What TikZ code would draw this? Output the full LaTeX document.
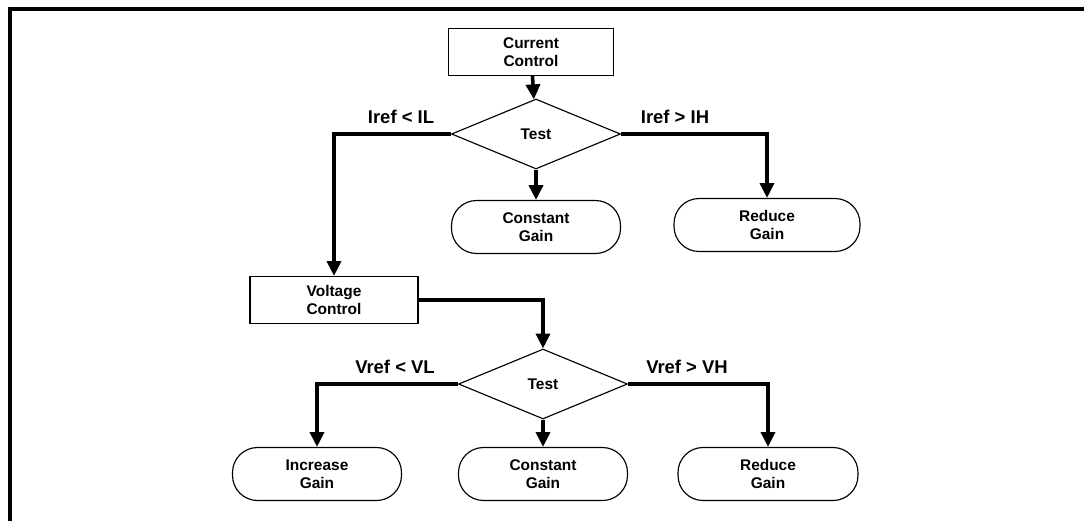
\documentclass[tikz,border=0pt]{standalone}
\usepackage{fontspec}
\setmainfont{Liberation Sans}
\usetikzlibrary{shapes.geometric,arrows.meta}

\begin{document}
\begin{tikzpicture}[x=0.02cm,y=-0.02cm]
\tikzset{boite/.style={draw, line width=0.65pt, inner sep=0pt, align=center, font=\fontsize{8.8}{10}\selectfont\bfseries},
  ctrl/.style={boite, minimum width=3.3cm, minimum height=0.94cm},
  test/.style={boite, diamond, minimum width=3.38cm, minimum height=1.4cm},
  fin/.style={boite, rounded corners=0.5cm, minimum width=3.38cm, minimum height=1.06cm},
  etiq/.style={font=\fontsize{10.5}{12}\selectfont\bfseries},
  fleche/.style={line width=2pt, -{Triangle[length=8.5pt,width=8pt]}}}
\useasboundingbox (0,0) rectangle (1084,521);
\draw[line width=2.1pt] (10,521) -- (10,9) -- (1084,9);
\node[ctrl] (Cur) at (531,52) {Current\\Control};
\node[test] (T1) at (536,134) {Test};
\node[fin] (Cst1) at (536,227) {Constant\\Gain};
\node[fin, minimum width=3.72cm] (Red1) at (767,225) {Reduce\\Gain};
\node[ctrl, minimum width=3.36cm] (Volt) at (334,300) {Voltage\\Control};
\node[test] (T2) at (543,384) {Test};
\node[fin] (Inc) at (317,474) {Increase\\Gain};
\node[fin] (Cst2) at (543,474) {Constant\\Gain};
\node[fin, minimum width=3.6cm] (Red2) at (768,474) {Reduce\\Gain};
\node[etiq] (L1) at (401,117) {Iref < IL};
\node[etiq] (L2) at (675,117) {Iref > IH};
\node[etiq] (L3) at (395,367) {Vref < VL};
\node[etiq] (L4) at (687,367) {Vref > VH};
\draw[fleche] (Cur) -- (T1);
\draw[fleche] (T1) -- (Cst1);
\draw[fleche] (T1.east) -| (Red1);
\draw[fleche] (T1.west) -| (Volt);
\draw[fleche] (Volt.east) -| (T2);
\draw[fleche] (T2) -- (Cst2);
\draw[fleche] (T2.west) -| (Inc);
\draw[fleche] (T2.east) -| (Red2);
\end{tikzpicture}
\end{document}
